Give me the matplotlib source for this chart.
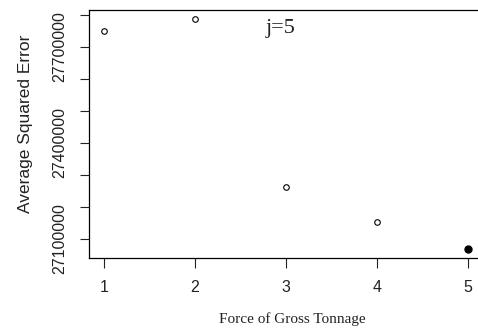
import matplotlib.pyplot as plt
import numpy as np

# average squared error for each force of gross tonnage
force = [1, 2, 3, 4, 5]
avg_sq_err = [27750000, 27787000, 27262000, 27153000, 27069000]
best = 5

yticks = np.arange(27100000, 27800001, 100000)
ytick_labels = [str(v) if (v - 27100000) % 300000 == 0 else '' for v in yticks]

fig = plt.figure(figsize=(4.78, 3.32), dpi=100)
# the frame runs past the right edge of the figure
ax = fig.add_axes([0.186, 0.223, 0.85, 0.747])

open_x = [f for f in force if f != best]
open_y = [e for f, e in zip(force, avg_sq_err) if f != best]
ax.plot(open_x, open_y, 'o', mfc='white', mec='black', ms=4, mew=0.8)
ax.plot([best], [avg_sq_err[force.index(best)]], 'o', color='black', ms=5)

ax.set_xlim(0.835, 5.30)
yr = max(avg_sq_err) - min(avg_sq_err)
ax.set_ylim(min(avg_sq_err) - 0.04 * yr, max(avg_sq_err) + 0.04 * yr)

ax.set_xticks(force)
ax.set_xticklabels([str(f) for f in force], fontsize=11.5, family='Liberation Sans')
ax.set_yticks(yticks)
ax.set_yticklabels(ytick_labels, fontsize=11.5, family='Liberation Sans',
                   rotation=90, va='center')
ax.tick_params(axis='x', length=7, width=0.8, pad=9, colors='#222222')
ax.tick_params(axis='y', length=6.5, width=0.8, pad=9, colors='#222222')

for s in ax.spines.values():
    s.set_linewidth(0.9)
ax.spines['right'].set_visible(False)

ax.text(2.94, 27759000, 'j=5', fontsize=16, family='Liberation Serif',
        ha='center', va='center', color='#222222')

ax.set_xlabel('Force of Gross Tonnage', fontsize=11, family='Liberation Serif',
              color='#222222', labelpad=12)
fig.text(0.054, 1 - 124 / 332, 'Average Squared Error', rotation=90,
         fontsize=12.5, family='Liberation Sans', ha='center', va='center',
         color='#222222')

fig.savefig('out.png', dpi=100)
